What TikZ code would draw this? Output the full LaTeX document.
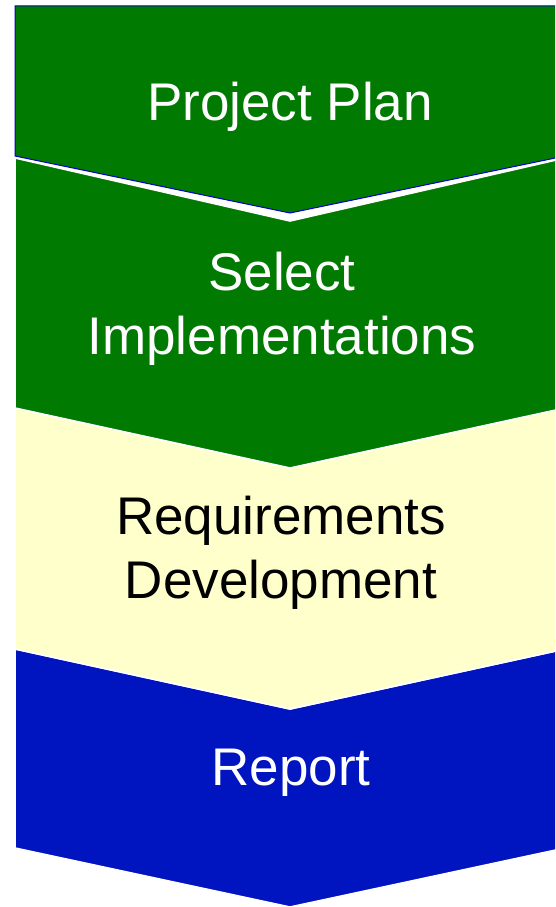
\documentclass[tikz,border=0pt]{standalone}
\usepackage{fontspec}
\setmainfont{Liberation Sans}

\definecolor{planGreen}{RGB}{0,122,0}
\definecolor{reqYellow}{RGB}{255,255,204}
\definecolor{reportBlue}{RGB}{0,20,192}
\definecolor{edgeBlue}{RGB}{0,0,204}

\tikzset{
	stage/.style={draw=white, line width=1.6pt, line join=miter},
	label/.style={font=\fontsize{53}{64}\selectfont, align=center, inner sep=0pt}
}

\begin{document}
\begin{tikzpicture}[x=1pt, y=-1pt]
		\useasboundingbox (0, 0) rectangle (555, 907);
		\clip (0, 0) rectangle (555, 907);

		% the four stages, top to bottom
		\filldraw[stage, fill=reportBlue] (15, 649) -- (290, 709) -- (565, 649) -- (565, 848) -- (290, 907) -- (15, 848) -- cycle;
		\filldraw[stage, fill=reqYellow] (15, 408) -- (290, 468) -- (565, 408) -- (565, 649) -- (290, 709) -- (15, 649) -- cycle;
		\filldraw[stage, fill=planGreen] (15, 158) -- (290, 221) -- (565, 158) -- (565, 408) -- (290, 468) -- (15, 408) -- cycle;
		\filldraw[draw=edgeBlue, line width=1pt, fill=planGreen] (15, 6) -- (565, 6) -- (565, 156) -- (290, 213) -- (15, 156) -- cycle;

		\node[label, white] (plan) at (290, 106.5) {Project Plan};
		\node[label, white] (select) at (282, 309) {Select\\Implementations};
		\node[label, black] (reqs) at (281, 553) {Requirements\\Development};
		\node[label, white] (report) at (291, 772.5) {Report};
	\end{tikzpicture}
\end{document}
